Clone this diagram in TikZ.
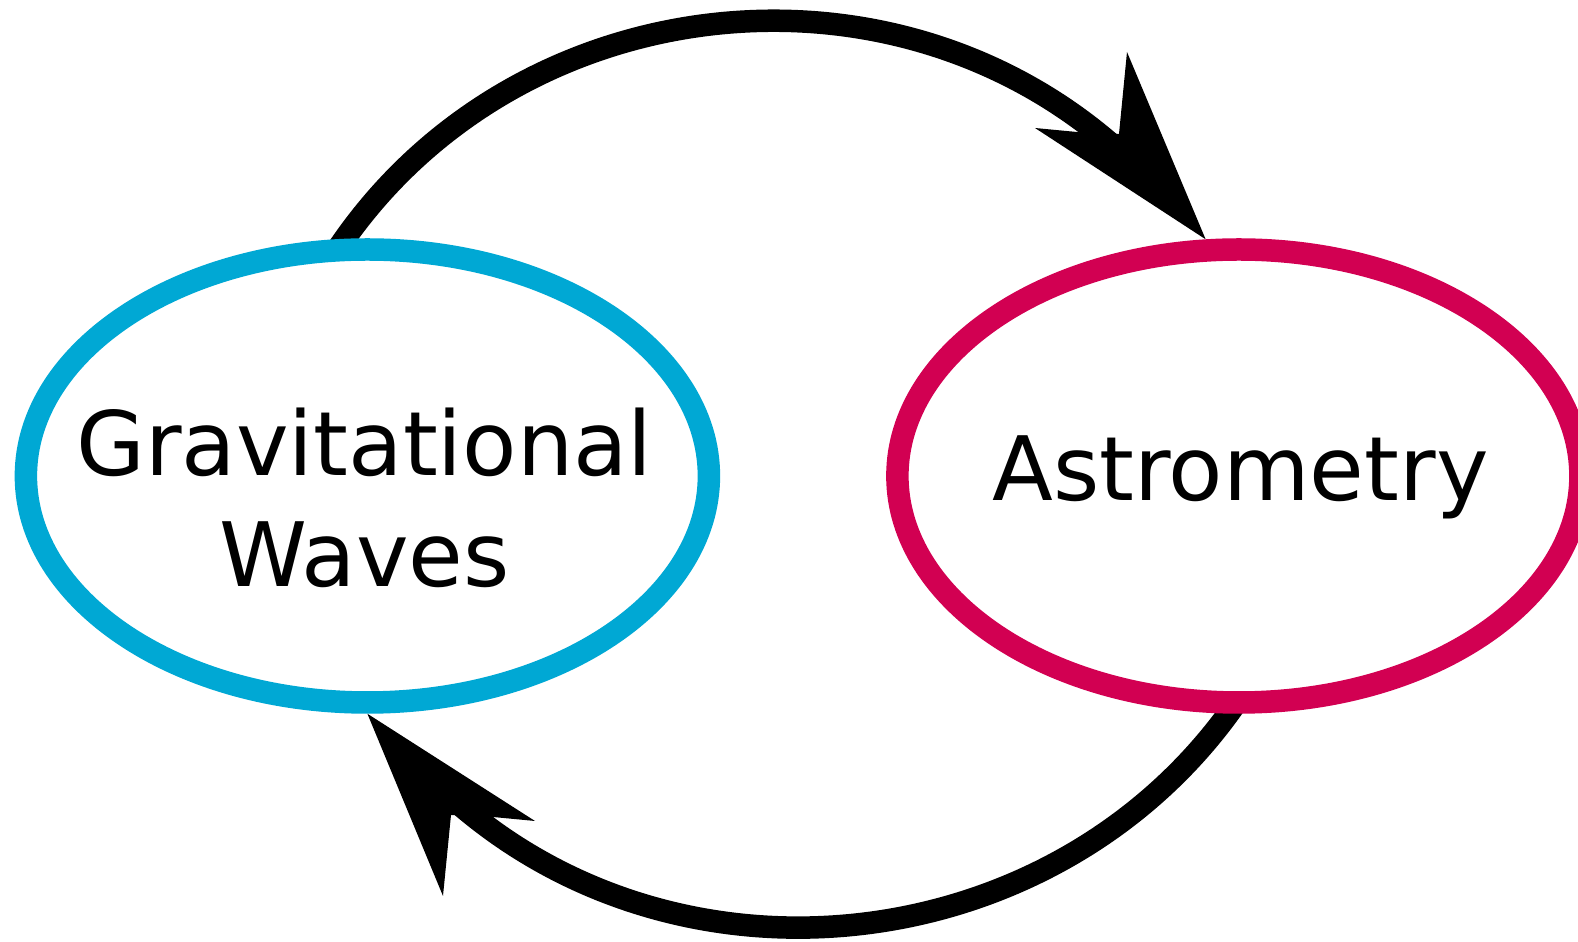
\documentclass[tikz,border=0pt]{standalone}
\usepackage{fontspec}
\setmainfont{DejaVu Sans}
\usetikzlibrary{shapes.geometric, backgrounds}
\definecolor{gwblue}{RGB}{0,168,212}
\definecolor{astrored}{RGB}{210,0,82}
\tikzset{
    field/.style={ellipse, draw, line width=0.225cm, minimum width=6.83cm, minimum height=4.53cm, inner sep=0pt},
    fieldtext/.style={anchor=base, align=center, font=\fontsize{25.3}{31.5}\selectfont},
    link/.style={line width=0.225cm},
}
\begin{document}
\begin{tikzpicture}
    \useasboundingbox (0,0) rectangle (15.78,-9.42);

    % Champs
    \node[field, draw=gwblue] (gw) at (3.674,-4.76) {};
    \node[field, draw=astrored] (astro) at (12.389,-4.76) {};
    \node[fieldtext] (gwtext) at ([xshift=-0.03cm, yshift=-1.107cm]gw.center) {Gravitational\\Waves};
    \node[fieldtext] (astrotext) at ([xshift=0.015cm, yshift=-0.25cm]astro.center) {Astrometry};

    \begin{scope}[on background layer]
        % Flèche du haut
        \coordinate (tend) at (11.11,-1.44);
        \coordinate (tw1) at (11.27,-0.52);
        \coordinate (tn1) at (11.19,-1.34);
        \coordinate (tn2) at (10.77,-1.32);
        \coordinate (tw2) at (10.35,-1.28);

        \draw[link] ([yshift=-0.15cm]gw.98) .. controls (5.06,0.08) and (8.79,0.56) .. (tend);
        \fill (astro.98) -- (tw1) -- (tn1) -- (tn2) -- (tw2) -- cycle;

        % Flèche du bas
        \coordinate (bend) at (4.59,-8.04);
        \coordinate (bw1) at (4.43,-8.96);
        \coordinate (bn1) at (4.51,-8.15);
        \coordinate (bn2) at (4.93,-8.17);
        \coordinate (bw2) at (5.35,-8.21);

        \draw[link] ([yshift=0.15cm]astro.270) .. controls (10.64,-9.56) and (6.91,-10.04) .. (bend);
        \fill (gw.270) -- (bw1) -- (bn1) -- (bn2) -- (bw2) -- cycle;
    \end{scope}
\end{tikzpicture}
\end{document}
